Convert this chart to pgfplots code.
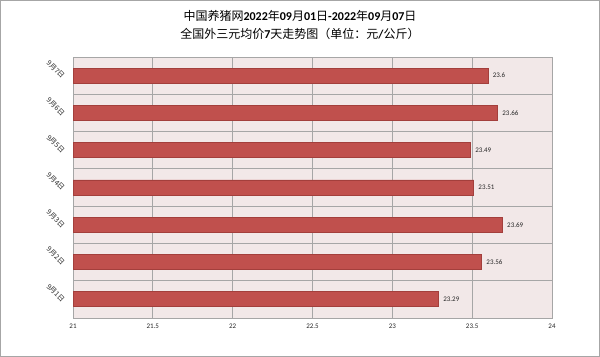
\documentclass[border=0pt]{standalone}
\usepackage{fontspec}
\setmainfont{Carlito}
\newfontfamily\cjk{Noto Sans CJK SC}
\usepackage{pgfplots}
\pgfplotsset{compat=1.18}
\definecolor{barred}{HTML}{C0504D}
\definecolor{baredge}{HTML}{A33F3C}
\definecolor{bgpink}{HTML}{F2E8E8}
\definecolor{gridgray}{HTML}{A6A6A6}
\begin{document}
\begin{tikzpicture}
\path[use as bounding box] (0bp,0bp) rectangle (600bp,357bp);
\draw[color=gridgray,line width=1bp] (0.5bp,0.5bp) rectangle (599.5bp,356.5bp);
\node[font=\fontsize{12bp}{14bp}\selectfont] at (300bp,341bp) {{\cjk 中国养猪网}\textbf{2022}{\cjk 年}\textbf{09}{\cjk 月}\textbf{01}{\cjk 日}\textbf{-2022}{\cjk 年}\textbf{09}{\cjk 月}\textbf{07}{\cjk 日}};
\node[font=\fontsize{12bp}{14bp}\selectfont] at (300bp,323bp) {{\cjk 全国外三元均价}\textbf{7}{\cjk 天走势图（单位：元}\textbf{/}{\cjk 公斤）}};
\begin{axis}[
  at={(73bp,39bp)}, anchor=south west,
  scale only axis, width=479bp, height=261bp,
  xbar, bar width=15bp,
  xmin=21, xmax=24, ymin=0.5, ymax=7.5,
  xtick={21,21.5,...,24},
  xticklabels={21,21.5,22,22.5,23,23.5,24},
  ytick={1,...,7},
  yticklabels={9月1日,9月2日,9月3日,9月4日,9月5日,9月6日,9月7日},
  minor ytick={1.5,2.5,...,6.5},
  xmajorgrids, yminorgrids,
  grid style={gridgray, line width=0.8bp},
  minor grid style={gridgray, line width=0.8bp},
  axis line style={gridgray, line width=0.8bp},
  tick style={draw=none},
  axis background/.style={fill=bgpink},
  xticklabel style={font=\fontsize{7bp}{8bp}\selectfont, text=black!85, yshift=-2bp},
  yticklabel style={font=\cjk\fontsize{7bp}{8bp}\selectfont, text=black!85, xshift=-3bp, yshift=-4bp, rotate=-45, anchor=east},
  point meta=explicit symbolic,
  nodes near coords,
  nodes near coords style={font=\fontsize{7bp}{8bp}\selectfont, text=black!85, anchor=west, xshift=1bp},
]
\addplot[fill=barred, draw=baredge, line width=0.8bp] coordinates {
  (23.29,1) [23.29]
  (23.56,2) [23.56]
  (23.69,3) [23.69]
  (23.51,4) [23.51]
  (23.49,5) [23.49]
  (23.66,6) [23.66]
  (23.6,7) [23.6]
};
\end{axis}
\end{tikzpicture}
\end{document}
